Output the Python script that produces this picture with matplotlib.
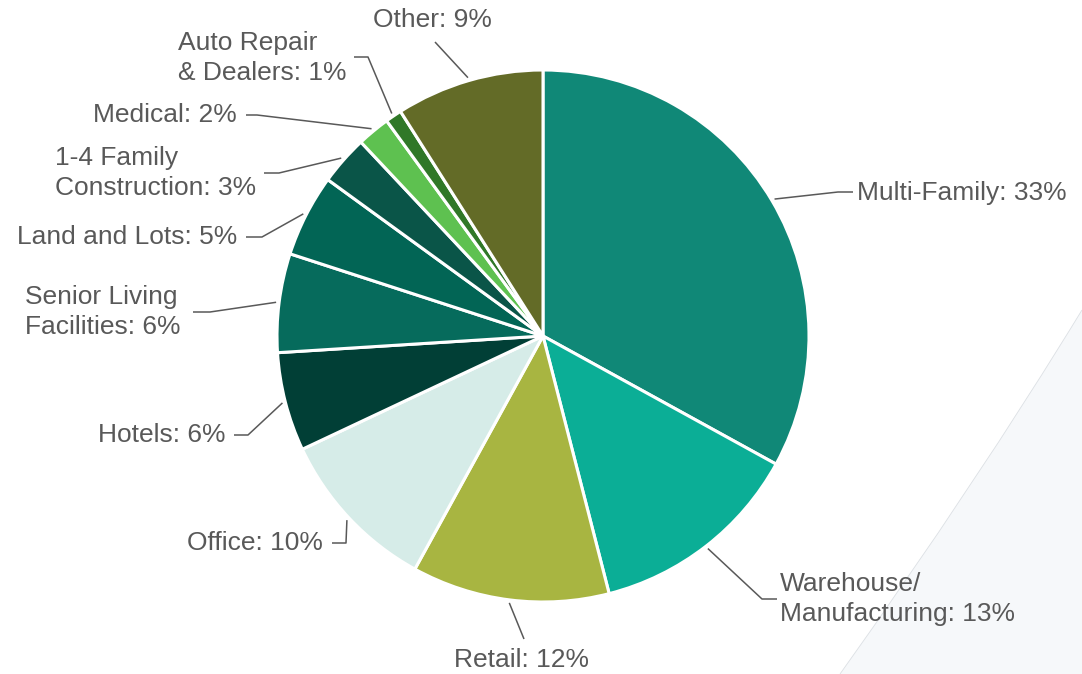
import matplotlib.pyplot as plt
import numpy as np
from matplotlib.patches import PathPatch
from matplotlib.path import Path

plt.rcParams['font.family'] = ['Liberation Sans', 'DejaVu Sans']

W, H = 1082, 674

categories = ['Multi-Family', 'Warehouse/\nManufacturing', 'Retail', 'Office', 'Hotels',
              'Senior Living\nFacilities', 'Land and Lots', '1-4 Family\nConstruction',
              'Medical', 'Auto Repair\n& Dealers', 'Other']
shares = [33, 13, 12, 10, 6, 6, 5, 3, 2, 1, 9]
colors = ['#108877', '#0BAE96', '#A8B541', '#D6ECE8', '#013F36', '#066B5C',
          '#026555', '#0A5548', '#5EC150', '#307828', '#636B27']

# label anchors in pixel space (y down) and leader bend points
label_pos = [(857, 193, 'left'), (780, 599, 'left'), (521, 660, 'center'),
             (323, 543, 'right'), (225, 435, 'right'), (25, 312, 'left'),
             (237, 237, 'right'), (55, 173, 'left'), (237, 115, 'right'),
             (178, 58, 'left'), (432, 20, 'center')]
leader_pts = [[(838, 192), (853, 192)], [(762, 599), (777, 599)], [(524, 639)],
              [(346, 543), (332, 543)], [(248, 435), (234, 435)],
              [(210, 312), (193, 312)], [(262, 237), (246, 237)],
              [(279, 173), (264, 173)], [(257, 115), (246, 115)],
              [(368, 57), (354, 57)], [(435, 42)]]

TXT = '#595959'
CX, CY, R = 543, 336, 266


def fy(y):
    return H - y


fig = plt.figure(figsize=(W / 100, H / 100), dpi=100)
ax = fig.add_axes([0, 0, 1, 1])

# pale backdrop sweeping in at the lower right
arc = [(1082, fy(310)), (977, fy(482)), (840, fy(674))]
bg = Path(arc + [(1090, fy(684)), (1082, fy(310))],
          [Path.MOVETO, Path.CURVE3, Path.CURVE3, Path.LINETO, Path.CLOSEPOLY])
ax.add_patch(PathPatch(bg, facecolor='#F6F8FA', edgecolor='none', zorder=0))
ax.add_patch(PathPatch(Path(arc, [Path.MOVETO, Path.CURVE3, Path.CURVE3]),
                       facecolor='none', edgecolor='#DCE0E4', linewidth=0.6, zorder=0))

wedges, _ = ax.pie(shares, colors=colors, startangle=90, counterclock=False,
                   center=(CX, fy(CY)), radius=R,
                   wedgeprops=dict(edgecolor='white', linewidth=2.2))

for w, name, pct, (tx, ty, ha), pts in zip(wedges, categories, shares, label_pos, leader_pts):
    mid = np.deg2rad((w.theta1 + w.theta2) / 2)
    sx = CX + (R + 3) * np.cos(mid)
    sy = fy(CY) + (R + 3) * np.sin(mid)
    xs = [sx] + [p[0] for p in pts]
    ys = [sy] + [fy(p[1]) for p in pts]
    ax.plot(xs, ys, color=TXT, lw=1.1, solid_capstyle='butt')
    ax.text(tx, fy(ty), f'{name}: {pct}%', ha=ha, va='center', fontsize=19,
            color=TXT, linespacing=1.3, multialignment='left')

ax.set_xlim(0, W)
ax.set_ylim(0, H)
ax.set_aspect('equal')
ax.axis('off')

fig.savefig('out.png', dpi=100)
